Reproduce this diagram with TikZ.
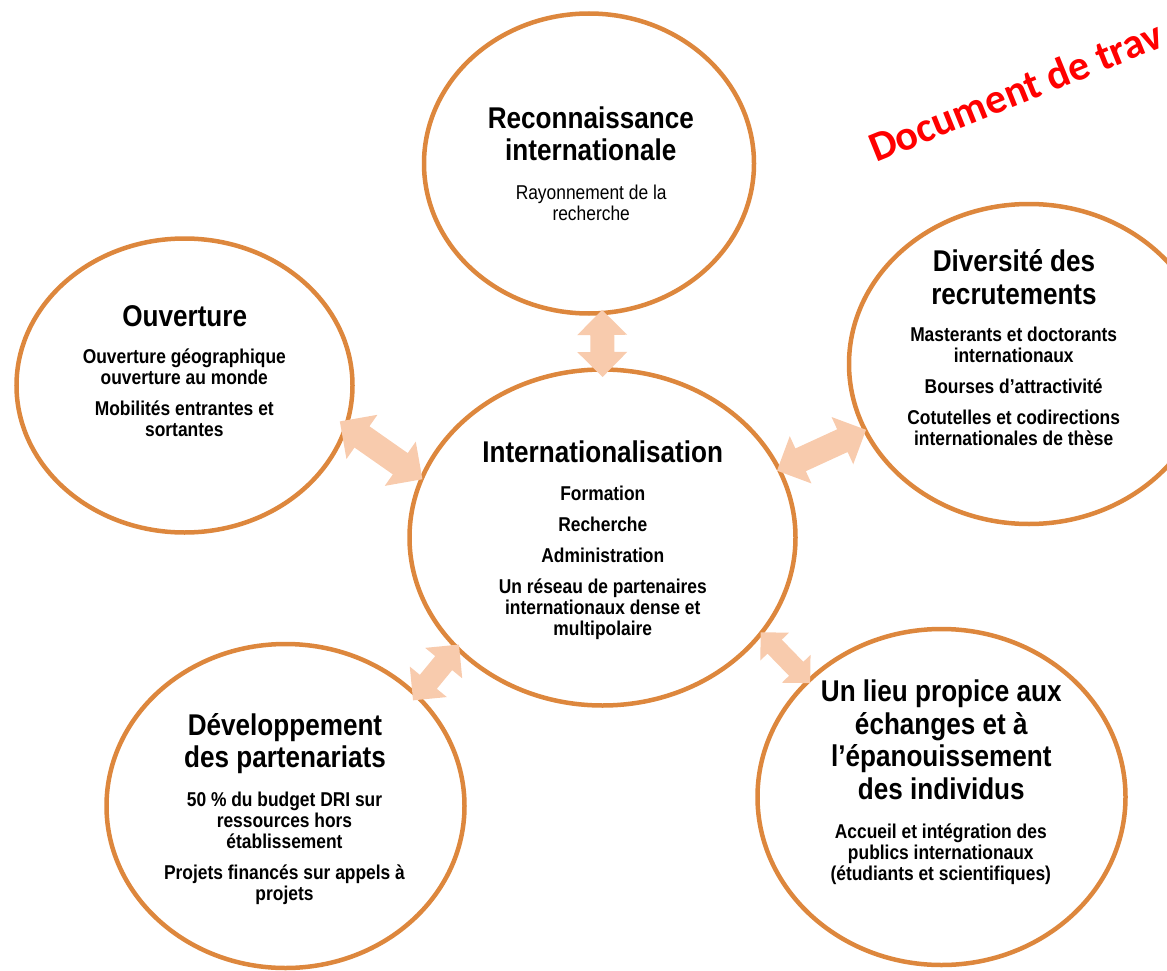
\documentclass[tikz,border=0pt]{standalone}
\usepackage{fontspec}
\setmainfont{Liberation Sans}[FakeStretch=0.87]
\newfontfamily\calib{Carlito}
\usetikzlibrary{shapes.geometric,calc}
\definecolor{ringorange}{RGB}{221,135,61}
\definecolor{arrowfill}{RGB}{248,203,173}
\definecolor{stampred}{RGB}{255,0,0}
\newcommand\stack[1]{\vtop{\lineskiplimit=-\maxdimen\halign{\hfil##\hfil\cr#1\crcr}}}
\newcommand\gap{\noalign{\vskip10pt}}
% #1 from, #2 to, #3 ext at from, #4 ext at to, #5 head length, #6 head half width, #7 shaft half width
\newcommand\blockarr[7]{%
  \fill[arrowfill] let \p1=(#1), \p2=(#2),
    \n1={atan2(\y2-\y1,\x2-\x1)}, \n2={veclen(\x2-\x1,\y2-\y1)} in
    {[shift={(\p1)},rotate=\n1]
     ({-#3*1pt},0pt) -- ({(#5-#3)*1pt},{#6*1pt}) -- ({(#5-#3)*1pt},{#7*1pt})
     -- ({(\n2-#5+#4)*1pt},{#7*1pt}) -- ({(\n2-#5+#4)*1pt},{#6*1pt})
     -- ({(\n2+#4)*1pt},0pt)
     -- ({(\n2-#5+#4)*1pt},{-#6*1pt}) -- ({(\n2-#5+#4)*1pt},{-#7*1pt})
     -- ({(#5-#3)*1pt},{-#7*1pt}) -- ({(#5-#3)*1pt},{-#6*1pt}) -- cycle};%
}
\begin{document}
\begin{tikzpicture}[x=1pt,y=-1pt,
  ring/.style={ellipse, draw=ringorange, line width=4.5pt, fill=white, inner sep=0pt, outer sep=0pt},
  ttl/.style={anchor=base, inner sep=0pt, font=\fontsize{30}{32.5}\selectfont\bfseries},
  bod/.style={anchor=base, inner sep=0pt, font=\fontsize{20}{21}\selectfont\bfseries},
  bodreg/.style={anchor=base, inner sep=0pt, font=\fontsize{20}{21}\selectfont},
  stampstyle/.style={anchor=base west, inner sep=0pt, rotate=22, text=stampred, font=\calib\bfseries\fontsize{42}{42}\selectfont}]
\useasboundingbox (0,0) rectangle (1167,971);
\clip (0,0) rectangle (1167,971);

% circles
\node[ring, minimum width=330pt, minimum height=300pt] (rec) at (589,163.5) {};
\node[ring, minimum width=336pt, minimum height=294pt] (ouv) at (184.5,385.5) {};
\node[ring, minimum width=360pt, minimum height=320pt] (div) at (1029,364) {};
\node[ring, minimum width=386pt, minimum height=336pt] (int) at (602.5,537.5) {};
\node[ring, minimum width=358pt, minimum height=324pt] (dev) at (285.5,806) {};
\node[ring, minimum width=368pt, minimum height=336pt] (lieu) at (941.5,797) {};

% stamp
\node[stampstyle] (stamp) at (876,163) {Document de trav};

% texts
\node[ttl] (recT) at (590.8,128.3) {\stack{Reconnaissance\cr internationale}};
\node[bodreg] (recB) at (591.2,199) {\stack{Rayonnement de la\cr recherche}};

\node[ttl] (ouvT) at (184.7,326) {\stack{Ouverture}};
\node[bod] (ouvB) at (184.3,363.3) {\stack{Ouverture géographique\cr ouverture au monde\cr\gap Mobilités entrantes et\cr sortantes}};

\node[ttl] (divT) at (1014,271.7) {\stack{Diversité des\cr recrutements}};
\node[bod] (divB) at (1013.7,341) {\stack{Masterants et doctorants\cr internationaux\cr\gap Bourses d’attractivité\cr\gap Cotutelles et codirections\cr internationales de thèse}};

\node[ttl] (intT) at (602.7,462.7) {\stack{Internationalisation}};
\node[bod] (intB) at (602.8,500) {\stack{Formation\cr\gap Recherche\cr\gap Administration\cr\gap Un réseau de partenaires\cr internationaux dense et\cr multipolaire}};

\node[ttl] (devT) at (285,735) {\stack{Développement\cr des partenariats}};
\node[bod] (devB) at (284.5,806.7) {\stack{50 \% du budget DRI sur\cr ressources hors\cr établissement\cr\gap Projets financés sur appels à\cr projets}};

\node[ttl] (lieuT) at (941.3,701.7) {\stack{Un lieu propice aux\cr échanges et à\cr l’épanouissement\cr des individus}};
\node[bod] (lieuB) at (940.8,838.3) {\stack{Accueil et intégration des\cr publics internationaux\cr (étudiants et scientifiques)}};

% double block arrows
\blockarr{rec.-85.12}{int.90.5}{3.1}{7.5}{25}{25}{12}
\blockarr{ouv.-14.78}{int.162.65}{7.6}{0.9}{27}{27}{13}
\blockarr{int.21.18}{div.202.79}{2.3}{1}{26}{26}{12.5}
\blockarr{dev.40.63}{int.217.95}{5.8}{3.8}{24}{24}{11}
\blockarr{int.-31.31}{lieu.139.15}{0.9}{2.8}{20}{20}{10}
\end{tikzpicture}
\end{document}
